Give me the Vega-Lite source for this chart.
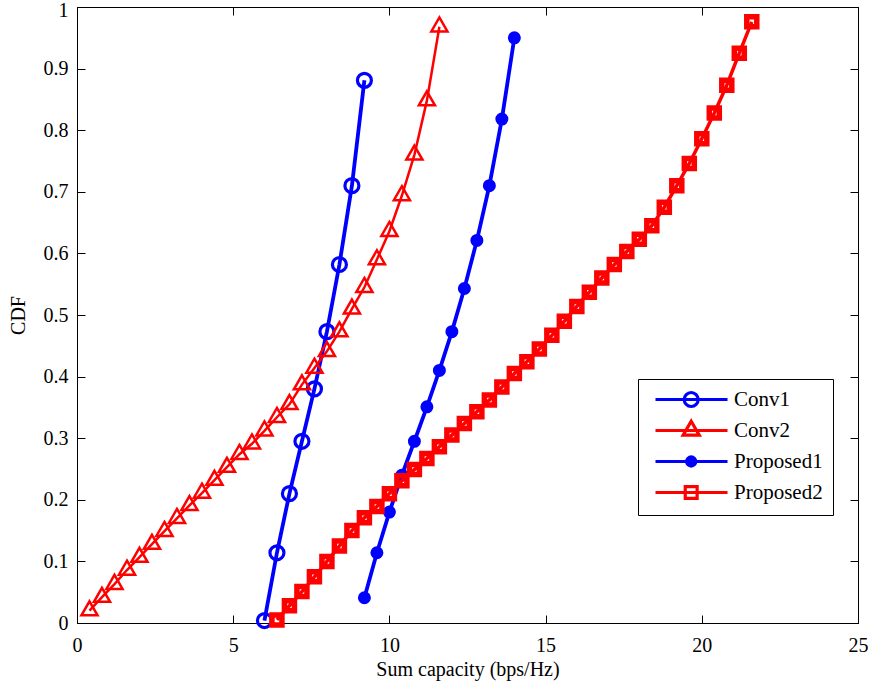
{
  "$schema": "https://vega.github.io/schema/vega-lite/v6.json",
  "width": 781,
  "height": 616,
  "autosize": {"type": "none"},
  "padding": {"left": 77, "top": 7, "right": 12, "bottom": 65},
  "background": "white",
  "data": {"values": [
    {"series": "Conv1", "x": 6.0, "y": 0.004}, {"series": "Conv1", "x": 6.4, "y": 0.114}, {"series": "Conv1", "x": 6.8, "y": 0.21},
    {"series": "Conv1", "x": 7.2, "y": 0.295}, {"series": "Conv1", "x": 7.6, "y": 0.38}, {"series": "Conv1", "x": 8.0, "y": 0.473},
    {"series": "Conv1", "x": 8.4, "y": 0.582}, {"series": "Conv1", "x": 8.8, "y": 0.71}, {"series": "Conv1", "x": 9.2, "y": 0.881},
    {"series": "Conv2", "x": 0.4, "y": 0.02}, {"series": "Conv2", "x": 0.8, "y": 0.042}, {"series": "Conv2", "x": 1.2, "y": 0.063},
    {"series": "Conv2", "x": 1.6, "y": 0.086}, {"series": "Conv2", "x": 2.0, "y": 0.107}, {"series": "Conv2", "x": 2.4, "y": 0.128},
    {"series": "Conv2", "x": 2.8, "y": 0.149}, {"series": "Conv2", "x": 3.2, "y": 0.17}, {"series": "Conv2", "x": 3.6, "y": 0.191},
    {"series": "Conv2", "x": 4.0, "y": 0.211}, {"series": "Conv2", "x": 4.4, "y": 0.232}, {"series": "Conv2", "x": 4.8, "y": 0.253},
    {"series": "Conv2", "x": 5.2, "y": 0.274}, {"series": "Conv2", "x": 5.6, "y": 0.291}, {"series": "Conv2", "x": 6.0, "y": 0.312},
    {"series": "Conv2", "x": 6.4, "y": 0.334}, {"series": "Conv2", "x": 6.8, "y": 0.355}, {"series": "Conv2", "x": 7.2, "y": 0.387},
    {"series": "Conv2", "x": 7.6, "y": 0.414}, {"series": "Conv2", "x": 8.0, "y": 0.441}, {"series": "Conv2", "x": 8.4, "y": 0.473},
    {"series": "Conv2", "x": 8.8, "y": 0.51}, {"series": "Conv2", "x": 9.2, "y": 0.545}, {"series": "Conv2", "x": 9.6, "y": 0.59},
    {"series": "Conv2", "x": 10.0, "y": 0.636}, {"series": "Conv2", "x": 10.4, "y": 0.694}, {"series": "Conv2", "x": 10.8, "y": 0.76},
    {"series": "Conv2", "x": 11.2, "y": 0.848}, {"series": "Conv2", "x": 11.6, "y": 0.968},
    {"series": "Proposed1", "x": 9.2, "y": 0.041}, {"series": "Proposed1", "x": 9.6, "y": 0.114}, {"series": "Proposed1", "x": 10.0, "y": 0.18},
    {"series": "Proposed1", "x": 10.4, "y": 0.24}, {"series": "Proposed1", "x": 10.8, "y": 0.295}, {"series": "Proposed1", "x": 11.2, "y": 0.351},
    {"series": "Proposed1", "x": 11.6, "y": 0.41}, {"series": "Proposed1", "x": 12.0, "y": 0.473}, {"series": "Proposed1", "x": 12.4, "y": 0.543},
    {"series": "Proposed1", "x": 12.8, "y": 0.621}, {"series": "Proposed1", "x": 13.2, "y": 0.71}, {"series": "Proposed1", "x": 13.6, "y": 0.818},
    {"series": "Proposed1", "x": 14.0, "y": 0.95},
    {"series": "Proposed2", "x": 6.4, "y": 0.005}, {"series": "Proposed2", "x": 6.8, "y": 0.028}, {"series": "Proposed2", "x": 7.2, "y": 0.051},
    {"series": "Proposed2", "x": 7.6, "y": 0.075}, {"series": "Proposed2", "x": 8.0, "y": 0.1}, {"series": "Proposed2", "x": 8.4, "y": 0.125},
    {"series": "Proposed2", "x": 8.8, "y": 0.15}, {"series": "Proposed2", "x": 9.2, "y": 0.171}, {"series": "Proposed2", "x": 9.6, "y": 0.189},
    {"series": "Proposed2", "x": 10.0, "y": 0.21}, {"series": "Proposed2", "x": 10.4, "y": 0.231}, {"series": "Proposed2", "x": 10.8, "y": 0.249},
    {"series": "Proposed2", "x": 11.2, "y": 0.267}, {"series": "Proposed2", "x": 11.6, "y": 0.286}, {"series": "Proposed2", "x": 12.0, "y": 0.305},
    {"series": "Proposed2", "x": 12.4, "y": 0.324}, {"series": "Proposed2", "x": 12.8, "y": 0.343}, {"series": "Proposed2", "x": 13.2, "y": 0.362},
    {"series": "Proposed2", "x": 13.6, "y": 0.383}, {"series": "Proposed2", "x": 14.0, "y": 0.405}, {"series": "Proposed2", "x": 14.4, "y": 0.424},
    {"series": "Proposed2", "x": 14.8, "y": 0.445}, {"series": "Proposed2", "x": 15.2, "y": 0.467}, {"series": "Proposed2", "x": 15.6, "y": 0.49},
    {"series": "Proposed2", "x": 16.0, "y": 0.514}, {"series": "Proposed2", "x": 16.4, "y": 0.537}, {"series": "Proposed2", "x": 16.8, "y": 0.56},
    {"series": "Proposed2", "x": 17.2, "y": 0.582}, {"series": "Proposed2", "x": 17.6, "y": 0.603}, {"series": "Proposed2", "x": 18.0, "y": 0.623},
    {"series": "Proposed2", "x": 18.4, "y": 0.645}, {"series": "Proposed2", "x": 18.8, "y": 0.675}, {"series": "Proposed2", "x": 19.2, "y": 0.71},
    {"series": "Proposed2", "x": 19.6, "y": 0.746}, {"series": "Proposed2", "x": 20.0, "y": 0.786}, {"series": "Proposed2", "x": 20.4, "y": 0.828},
    {"series": "Proposed2", "x": 20.8, "y": 0.873}, {"series": "Proposed2", "x": 21.2, "y": 0.925}, {"series": "Proposed2", "x": 21.6, "y": 0.976}
  ]},
  "layer": [
    {
      "encoding": {
        "x": {"field": "x", "type": "quantitative", "scale": {"domain": [0, 25], "nice": false, "zero": false},
              "axis": {"orient": "bottom", "values": [0, 5, 10, 15, 20, 25], "title": "Sum capacity (bps/Hz)", "labelPadding": 20, "titlePadding": 4, "labelFlush": false}},
        "y": {"field": "y", "type": "quantitative", "scale": {"domain": [0, 1], "nice": false},
              "axis": {"orient": "left", "values": [0, 0.1, 0.2, 0.3, 0.4, 0.5, 0.6, 0.7, 0.8, 0.9, 1], "format": "~g", "title": "CDF", "labelPadding": 17, "titlePadding": 15, "labelFlush": false,
                       "labelOffset": {"condition": {"test": "datum.value === 1", "value": 3}, "value": 0}}}
      },
      "layer": [
        {
          "transform": [{"filter": "false"}],
          "mark": {"type": "point", "filled": false},
          "encoding": {
            "color": {"field": "series", "type": "nominal",
              "scale": {"domain": ["Conv1", "Conv2", "Proposed1", "Proposed2"], "range": ["#0000ff", "#ff0000", "#0000ff", "#ff0000"]},
              "legend": {
                "orient": "none", "legendX": 561, "legendY": 372, "title": null,
                "fillColor": "white", "strokeColor": "black", "cornerRadius": 0, "gridAlign": "all",
                "padding": 10, "symbolSize": 196, "labelOffset": 65, "rowPadding": 1,
                "labelFont": "Liberation Serif", "labelFontSize": 21, "labelColor": "black", "labelLimit": 0,
                "symbolStrokeWidth": 3.2, "symbolOpacity": 1
              }
            },
            "shape": {"field": "series", "type": "nominal",
              "scale": {"domain": ["Conv1", "Conv2", "Proposed1", "Proposed2"], "range": [
                "M-0.43,0H9.86M3.67,0A1,1,0,1,0,5.67,0A1,1,0,1,0,3.67,0",
                "M-0.43,0H9.86M4.67,-1.33L5.82,0.67L3.52,0.67Z",
                "M-0.43,0H9.86M4.02,0A0.65,0.65,0,1,0,5.32,0A0.65,0.65,0,1,0,4.02,0",
                "M-0.43,0H9.86M3.82,-0.85H5.52V0.85H3.82Z"
              ]},
              "legend": {
                "orient": "none", "legendX": 561, "legendY": 372, "title": null,
                "fillColor": "white", "strokeColor": "black", "cornerRadius": 0, "gridAlign": "all",
                "padding": 10, "symbolSize": 196, "labelOffset": 65, "rowPadding": 1,
                "labelFont": "Liberation Serif", "labelFontSize": 21, "labelColor": "black", "labelLimit": 0,
                "symbolStrokeWidth": 3.2, "symbolOpacity": 1
              }
            },
            "fill": {"field": "series", "type": "nominal",
              "scale": {"domain": ["Conv1", "Conv2", "Proposed1", "Proposed2"], "range": ["transparent", "transparent", "#0000ff", "transparent"]},
              "legend": {
                "orient": "none", "legendX": 561, "legendY": 372, "title": null,
                "fillColor": "white", "strokeColor": "black", "cornerRadius": 0, "gridAlign": "all",
                "padding": 10, "symbolSize": 196, "labelOffset": 65, "rowPadding": 1,
                "labelFont": "Liberation Serif", "labelFontSize": 21, "labelColor": "black", "labelLimit": 0,
                "symbolStrokeWidth": 3.2, "symbolOpacity": 1
              }
            }
          }
        },
        {"transform": [{"filter": "datum.series === 'Conv1'"}], "mark": {"type": "line", "color": "#0000ff", "strokeWidth": 3.8}},
        {"transform": [{"filter": "datum.series === 'Conv1'"}], "mark": {"type": "point", "shape": "circle", "filled": false, "color": "#0000ff", "size": 196, "strokeWidth": 3.2, "opacity": 1}},
        {"transform": [{"filter": "datum.series === 'Conv2'"}], "mark": {"type": "line", "color": "#ff0000", "strokeWidth": 2.5}},
        {"transform": [{"filter": "datum.series === 'Conv2'"}], "mark": {"type": "point", "shape": "M0,-1.33L1.15,0.67L-1.15,0.67Z", "filled": false, "color": "#ff0000", "size": 196, "strokeWidth": 2.5, "opacity": 1}},
        {"transform": [{"filter": "datum.series === 'Proposed1'"}], "mark": {"type": "line", "color": "#0000ff", "strokeWidth": 3.8}},
        {"transform": [{"filter": "datum.series === 'Proposed1'"}], "mark": {"type": "point", "shape": "circle", "filled": true, "color": "#0000ff", "stroke": "#0000ff", "size": 100, "strokeWidth": 3, "opacity": 1}},
        {"transform": [{"filter": "datum.series === 'Proposed2'"}], "mark": {"type": "line", "color": "#ff0000", "strokeWidth": 3.5}},
        {"transform": [{"filter": "datum.series === 'Proposed2'"}], "mark": {"type": "point", "shape": "square", "filled": false, "color": "#ff0000", "size": 100, "strokeWidth": 5.5, "opacity": 1}}
      ]
    },
    {
      "mark": {"type": "point", "opacity": 0},
      "encoding": {
        "x": {"field": "x", "type": "quantitative", "scale": {"domain": [0, 25], "nice": false, "zero": false},
              "axis": {"orient": "top", "values": [0, 5, 10, 15, 20, 25], "labels": false, "title": null}},
        "y": {"field": "y", "type": "quantitative", "scale": {"domain": [0, 1], "nice": false},
              "axis": {"orient": "right", "values": [0, 0.1, 0.2, 0.3, 0.4, 0.5, 0.6, 0.7, 0.8, 0.9, 1], "labels": false, "title": null}}
      }
    }
  ],
  "resolve": {"axis": {"x": "independent", "y": "independent"}},
  "config": {
    "view": {"stroke": "black", "strokeWidth": 1},
    "axis": {
      "grid": false, "domainColor": "black", "domainWidth": 1, "tickColor": "black", "tickWidth": 1, "tickSize": -8,
      "labelFont": "Liberation Serif", "labelFontSize": 20, "labelColor": "black",
      "titleFont": "Liberation Serif", "titleFontSize": 20, "titleFontWeight": "normal", "titleColor": "black"
    }
  }
}
